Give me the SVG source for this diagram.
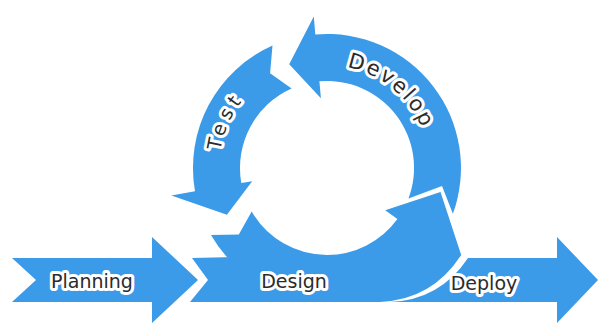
<svg xmlns="http://www.w3.org/2000/svg" width="600" height="325" viewBox="0 0 600 325">
  <style>
    .arrow { fill: #3b9be8; stroke: none; }
    .lbl { font-family: "DejaVu Sans", "Liberation Sans", sans-serif; font-size: 19px; fill: #2b2b2b; stroke: #ffffff; stroke-width: 6px; stroke-linejoin: round; paint-order: stroke; }
  </style>
  <defs>
    <path id="developPath" d="M 341.3,66 A 103 103 0 0 1 423.8,132.8"/>
    <path id="testPath" d="M 219.1,164.2 A 108 108 0 0 1 250.6,91.6"/>
  </defs>
  <rect width="600" height="325" fill="#ffffff"/>

  <g id="node-planning">
    <path class="arrow" d="M 12,258 L 152,258 L 152,237 L 198,280 L 152,323 L 152,302 L 12,302 L 36,280 Z"/>
    <text class="lbl" x="92" y="288" text-anchor="middle">Planning</text>
  </g>

  <g id="node-design">
    <path class="arrow" d="M 192,258 L 208,280 L 190,302 L 380,302 Q 432,300 461.2,255.1 L 440.5,192.1 L 385.2,210.3 L 397.4,219.1 A 87 87 0 0 1 327,255 L 192,258 Z"/>
    <path class="arrow" d="M 251.7,211.5 L 238.8,234.5 L 211,235 A 134 134 0 0 0 327,302 L 327,255 A 87 87 0 0 1 251.7,211.5 Z"/>
    <text class="lbl" x="294" y="288" text-anchor="middle">Design</text>
  </g>

  <g id="node-deploy">
    <path class="arrow" d="M 468,258 L 557,258 L 557,237 L 598,280 L 557,323 L 557,302 L 390,302 Q 440,300 468,258 Z"/>
    <text class="lbl" x="484" y="290" text-anchor="middle">Deploy</text>
  </g>

  <g id="node-develop">
    <path class="arrow" d="M 408.5,198.5 L 442,186 L 452.9,213.8 A 134 134 0 0 0 315.3,34.5 L 313.8,16.6 L 289.2,64.2 L 320.9,98.3 L 319.4,81.3 A 87 87 0 0 1 408.5,198.5 Z"/>
    <text class="lbl" style="font-size:21px"><textPath href="#developPath" startOffset="50%" text-anchor="middle" textLength="100" lengthAdjust="spacing">Develop</textPath></text>
  </g>

  <g id="node-test">
    <path class="arrow" d="M 291.6,88.5 L 270.1,73.3 L 272.5,45.6 A 134 134 0 0 0 195,191.3 L 171.4,195.4 L 226.9,214.7 L 252.2,181.2 L 241.3,183.1 A 87 87 0 0 1 291.6,88.5 Z"/>
    <text class="lbl"><textPath href="#testPath" startOffset="50%" text-anchor="middle" textLength="54" lengthAdjust="spacing">Test</textPath></text>
  </g>

  <g id="connectors"></g>
</svg>
